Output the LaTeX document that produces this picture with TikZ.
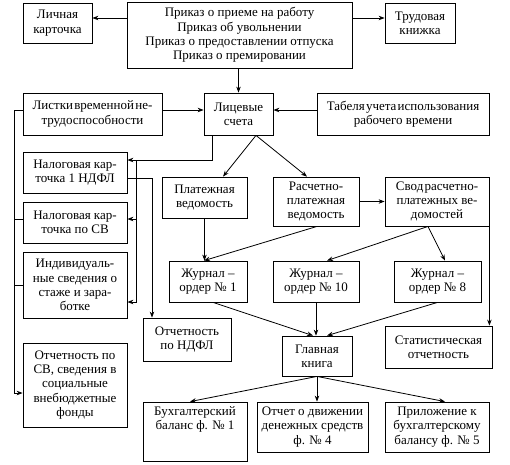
\documentclass[tikz,border=0pt]{standalone}
\usepackage{fontspec}
\setmainfont{Liberation Serif}
\usetikzlibrary{arrows.meta, positioning}
\newcommand*{\tightsp}{\spaceskip=1.2pt\relax}

\begin{document}
\begin{tikzpicture}[x=1pt, y=-1pt, >={Stealth[length=6pt,width=4.5pt]},
      every node/.style={font=\fontsize{13}{14.3}\selectfont},
      doc/.style={draw, line width=0.8pt, align=center, inner sep=1pt},
      link/.style={line width=0.8pt}]
  \useasboundingbox (0,0) rectangle (510,464);
  % documents
  \node[doc, minimum width=69pt, minimum height=40pt] (card) at (57.5,23) {Личная\\карточка};
  \node[doc, minimum width=225pt, minimum height=66pt] (order) at (239.5,35) {Приказ о приеме на работу\\Приказ об увольнении\\Приказ о предоставлении отпуска\\Приказ о премировании};
  \node[doc, minimum width=70pt, minimum height=40pt] (book) at (420,23) {Трудовая\\книжка};
  \node[doc, minimum width=139pt, minimum height=42pt] (sick) at (92.5,114) {\tightsp Листки временной не-\\трудоспособности};
  \node[doc, minimum width=69pt, minimum height=42pt] (acc) at (238.5,114) {Лицевые\\счета};
  \node[doc, minimum width=172pt, minimum height=42pt] (time) at (403,114) {\tightsp Табеля учета использования\\рабочего времени};
  \node[doc, minimum width=104pt, minimum height=41pt] (taxA) at (75,172.5) {Налоговая кар-\\точка 1 НДФЛ};
  \node[doc, minimum width=104pt, minimum height=41pt] (taxB) at (75,222.5) {Налоговая кар-\\точка по СВ};
  \node[doc, minimum width=104pt, minimum height=66pt] (pers) at (75,285) {Индивидуаль-\\ные сведения о\\стаже и зара-\\ботке};
  \node[doc, minimum width=85pt, minimum height=41pt] (pay) at (204.5,197.5) {Платежная\\ведомость};
  \node[doc, minimum width=86pt, minimum height=49pt] (calc) at (316,201.5) {Расчетно-\\платежная\\ведомость};
  \node[doc, minimum width=104pt, minimum height=49pt] (sum) at (437,201.5) {\tightsp Свод расчетно-\\платежных ве-\\домостей};
  \node[doc, minimum width=78pt, minimum height=41pt] (jA) at (208,281.5) {Журнал –\\ордер № 1};
  \node[doc, minimum width=86pt, minimum height=41pt] (jB) at (316,281.5) {Журнал –\\ордер № 10};
  \node[doc, minimum width=87pt, minimum height=41pt] (jC) at (437.5,281.5) {Журнал –\\ордер № 8};
  \node[doc, minimum width=88pt, minimum height=43pt] (repA) at (187,339.5) {Отчетность\\по НДФЛ};
  \node[doc, minimum width=104pt, minimum height=84pt] (repB) at (75,385) {Отчетность по\\СВ, сведения в\\социальные\\внебюджетные\\фонды};
  \node[doc, minimum width=70pt, minimum height=40pt] (ledger) at (317,356) {Главная\\книга};
  \node[doc, minimum width=107pt, minimum height=42pt] (stat) at (438.5,347) {Статистическая\\отчетность};
  \node[doc, minimum width=104pt, minimum height=59pt] (bal) at (195,431.5) {Бухгалтерский\\баланс ф. № 1\\[8pt]\strut};
  \node[doc, minimum width=111pt, minimum height=50pt] (cash) at (312.5,427) {Отчет о движении\\денежных средств\\ф. № 4};
  \node[doc, minimum width=104pt, minimum height=50pt] (annex) at (437,427) {Приложение к\\бухгалтерскому\\балансу ф. № 5};

  % top row
  \draw[link,->] ([yshift=5pt]card.east -| order.west) -- ([yshift=5pt]card.east);
  \draw[link,->] ([yshift=5pt]book.west -| order.east) -- ([yshift=5pt]book.west);
  \draw[link,->] (order.south -| acc.north) -- (acc.north);
  \draw[link,->] ([yshift=4pt]sick.east) -- ([yshift=4pt]acc.west);
  \draw[link,->] ([yshift=4pt]time.west) -- ([yshift=4pt]acc.east);

  % tax cards
  \coordinate (busR) at ([xshift=9pt,yshift=12.5pt]taxA.east);
  \draw[link,->] ([xshift=-26.5pt]acc.south) |- ([yshift=12.5pt]taxA.east);
  \draw[link,->] (busR) |- ([yshift=3.5pt]taxB.east);
  \draw[link,->] (busR) |- ([yshift=-17pt]pers.east);
  \draw[link,->] ([yshift=-5.5pt]taxA.east) -| ([xshift=-35pt]repA.north);
  \coordinate (busL) at ([xshift=-8pt,yshift=4pt]sick.west);
  \draw[link,->] ([yshift=4pt]sick.west) -- (busL) |- ([yshift=-8pt]repB.west);
  \draw[link] ([yshift=3.5pt]taxB.west) -| (busL);
  \draw[link] (pers.west) -| (busL);

  % statements and journals
  \draw[link,->] ([xshift=17.5pt]acc.south) -- ([xshift=18.5pt]pay.north);
  \draw[link,->] ([xshift=17.5pt]acc.south) -- ([xshift=-9pt]calc.north);
  \draw[link,->] (calc) -- (sum);
  \draw[link,->] (pay.south) -- (pay.south |- jA.north);
  \draw[link,->] ([xshift=1pt]calc.south) -- ([xshift=-4pt]jA.north);
  \draw[link,->] ([xshift=-9pt]sum.south) -- ([xshift=11pt]jB.north);
  \draw[link,->] ([xshift=-9pt]sum.south) -- ([xshift=7.5pt]jC.north);
  \draw[link,->] (sum.south east) -- (sum.south east |- stat.north);

  % ledger
  \draw[link,->] ([xshift=5pt]jA.south) -- ([xshift=-4pt]ledger.north);
  \draw[link,->] (jB.south) -- (jB.south |- ledger.north);
  \draw[link,->] (jC.south) -- ([xshift=10pt]ledger.north);
  \draw[link,->] (ledger.south) -- ([xshift=-5pt]bal.north);
  \draw[link,->] (ledger.south) -- (ledger.south |- cash.north);
  \draw[link,->] (ledger.south) -- ([xshift=8pt]annex.north);
\end{tikzpicture}
\end{document}
